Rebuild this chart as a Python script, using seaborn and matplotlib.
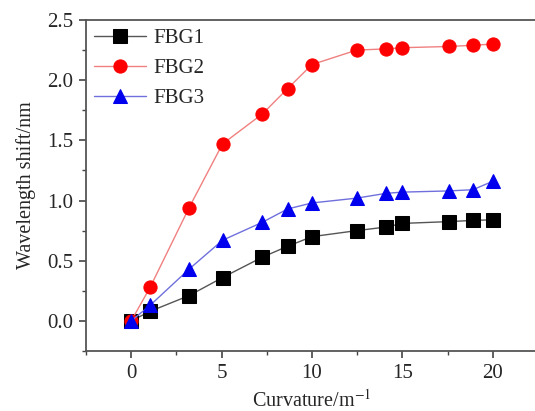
import numpy as np
import pandas as pd
import matplotlib
matplotlib.use("Agg")
import matplotlib.pyplot as plt
import seaborn as sns
from matplotlib.ticker import MultipleLocator

# curvature points (m^-1)
curvature = [0, 1.05, 3.2, 5.05, 7.26, 8.65, 10.0, 12.47, 14.1, 15.0, 17.58, 18.9, 20.0]

# wavelength shift (nm)
fbg1 = [0.0, 0.08, 0.21, 0.36, 0.53, 0.62, 0.70, 0.75, 0.78, 0.81, 0.825, 0.835, 0.84]
fbg2 = [0.0, 0.28, 0.94, 1.47, 1.72, 1.93, 2.13, 2.25, 2.26, 2.27, 2.28, 2.29, 2.30]
fbg3 = [0.0, 0.13, 0.43, 0.67, 0.82, 0.93, 0.98, 1.02, 1.06, 1.07, 1.08, 1.09, 1.16]

sns.set_style("white")
plt.rcParams['font.family'] = ['Liberation Serif', 'DejaVu Serif']
plt.rcParams['mathtext.fontset'] = 'stix'

fig = plt.figure(figsize=(5.35, 4.11), dpi=100)
ax = fig.add_axes([86 / 535, 60 / 411, (538 - 86) / 535, 331 / 411])

series = [
    ("FBG1", fbg1, "s", "black", "#555555"),
    ("FBG2", fbg2, "o", "#ff0000", "#f08080"),
    ("FBG3", fbg3, "^", "#0000ee", "#7070dd"),
]
for name, vals, mk, mcol, lcol in series:
    df = pd.DataFrame({"x": curvature, "y": vals})
    sns.lineplot(data=df, x="x", y="y", ax=ax, label=name, color=lcol,
                 marker=mk, markersize=9.5, markerfacecolor=mcol,
                 markeredgecolor=mcol, linewidth=1.0)

ax.set_xlim(-2.5, 22.5)
ax.set_ylim(-0.25, 2.5)
ax.xaxis.set_major_locator(MultipleLocator(5))
ax.xaxis.set_minor_locator(MultipleLocator(2.5))
ax.yaxis.set_major_locator(MultipleLocator(0.5))
ax.yaxis.set_minor_locator(MultipleLocator(0.25))
ax.tick_params(which='both', direction='out', color='#444444', labelsize=15,
               bottom=True, left=True)
ax.tick_params(which='major', length=5, width=1.2, pad=4)
ax.tick_params(which='minor', length=3, width=1.0)
for s in ax.spines.values():
    s.set_color('#555555')
    s.set_linewidth(1.3)

ax.set_xlabel("Curvature/m$^{-1}$", fontsize=14.5, labelpad=5)
ax.set_ylabel("Wavelength shift/nm", fontsize=14.5, labelpad=8)

leg = ax.legend(loc='upper left', frameon=False, fontsize=15, handlelength=2.5,
                borderaxespad=0.2, labelspacing=0.5, handletextpad=0.35,
                borderpad=0.2)

fig.savefig("out.png", dpi=100)
